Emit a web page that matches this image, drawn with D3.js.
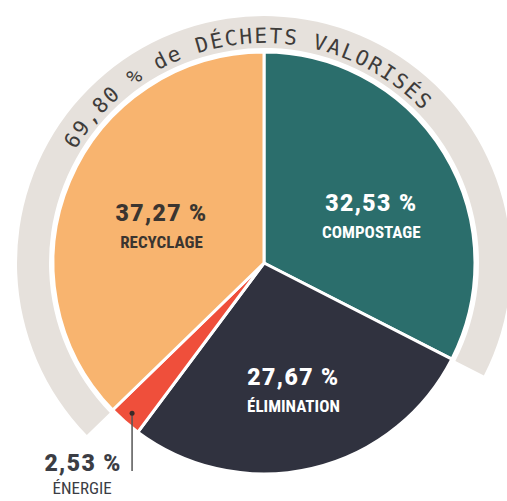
<!DOCTYPE html>
<html>
<head>
<meta charset="utf-8">
<script src="https://cdn.jsdelivr.net/npm/d3@7"></script>
<style>
  html, body { margin: 0; padding: 0; background: #ffffff; }
  svg { display: block; }
</style>
</head>
<body>
<svg id="chart" width="507" height="501"></svg>
<script>
// Waste treatment shares (%), clockwise from 12 o'clock
const categories = ["COMPOSTAGE", "ÉLIMINATION", "ÉNERGIE", "RECYCLAGE"];
const shares = [32.53, 27.67, 2.53, 37.27];
const shareLabels = ["32,53 %", "27,67 %", "2,53 %", "37,27 %"];
const colors = ["#2b6e6c", "#30323f", "#ef4f3b", "#f8b46f"];
// Recovered waste (recycling + composting) highlighted by the outer band
const recovered = ["RECYCLAGE", "COMPOSTAGE"];
const recoveredTitle = "69,80 % de DÉCHETS VALORISÉS";

const svg = d3.select("#chart");
const cx = 264, cy = 263;
const R = 211;
const bandInner = 215, bandOuter = 247;
const deg = Math.PI / 180;

const g = svg.append("g").attr("transform", `translate(${cx},${cy})`);

const data = categories.map((c, i) => ({ cat: c, value: shares[i], label: shareLabels[i], color: colors[i] }));
const pie = d3.pie().sort(null).value(d => d.value).startAngle(0).endAngle(2 * Math.PI);
const arcs = pie(data);
const byCat = Object.fromEntries(arcs.map(a => [a.data.cat, a]));

// Outer grey band spanning the recovered categories (RECYCLAGE start -> COMPOSTAGE end)
const bandStart = byCat[recovered[0]].startAngle - 2 * Math.PI;
const bandEnd = byCat[recovered[1]].endAngle;
g.append("path")
  .attr("d", d3.arc().innerRadius(bandInner).outerRadius(bandOuter)
    .startAngle(bandStart).endAngle(bandEnd)())
  .attr("fill", "#e6e1dc");

// Pie slices
const arcGen = d3.arc().innerRadius(0).outerRadius(R);
g.selectAll("path.slice")
  .data(arcs)
  .join("path")
  .attr("class", "slice")
  .attr("d", arcGen)
  .attr("fill", d => d.data.color)
  .attr("stroke", "#ffffff")
  .attr("stroke-width", 3)
  .attr("stroke-linejoin", "round");

// Curved title along the band
const tr = 220;
const a0 = -59 * deg, a1 = 46 * deg, aPathEnd = 60 * deg;
const p0 = [tr * Math.sin(a0), -tr * Math.cos(a0)];
const p1 = [tr * Math.sin(aPathEnd), -tr * Math.cos(aPathEnd)];
svg.append("defs").append("path")
  .attr("id", "titlePath")
  .attr("d", `M${p0[0]},${p0[1]} A${tr},${tr} 0 0 1 ${p1[0]},${p1[1]}`);
g.append("text")
  .attr("font-family", "'DejaVu Sans Mono', 'Liberation Mono', monospace")
  .attr("font-size", 21)
  .attr("fill", "#3e3c3a")
  .append("textPath")
  .attr("href", "#titlePath")
  .attr("textLength", tr * (a1 - a0))
  .attr("lengthAdjust", "spacing")
  .text(recoveredTitle);

// Inside labels: placed around each slice's centroid
const labelPos = {
  "RECYCLAGE":   { r: 109, nudge: -3 },
  "COMPOSTAGE":  { r: 117, nudge: 8 },
  "ÉLIMINATION": { r: 130, nudge: 0 }
};
const numFont = "'Roboto', 'Liberation Sans', sans-serif";
const catFont = "'Liberation Sans Narrow', 'Roboto Condensed', 'DejaVu Sans Condensed', sans-serif";

Object.entries(labelPos).forEach(([cat, pos]) => {
  const a = byCat[cat];
  const mid = (a.startAngle + a.endAngle) / 2 + pos.nudge * deg;
  const x = pos.r * Math.sin(mid), y = -pos.r * Math.cos(mid);
  const fill = cat === "RECYCLAGE" ? "#3b3530" : "#ffffff";
  const lg = g.append("g").attr("transform", `translate(${x},${y})`);
  lg.append("text")
    .attr("text-anchor", "middle")
    .attr("y", -5)
    .attr("font-family", numFont)
    .attr("font-weight", 900)
    .attr("font-size", 23)
    .attr("letter-spacing", 1.4)
    .attr("fill", fill)
    .text(a.data.label);
  lg.append("text")
    .attr("text-anchor", "middle")
    .attr("y", 22)
    .attr("font-family", catFont)
    .attr("font-weight", 700)
    .attr("font-size", 17)
    .attr("fill", fill)
    .text(cat);
});

// External label for the small ÉNERGIE slice, with leader line
const en = byCat["ÉNERGIE"];
const enMid = (en.startAngle + en.endAngle) / 2;
const dotR = 200;
const dx = dotR * Math.sin(enMid), dy = -dotR * Math.cos(enMid);
const lineBottom = 471 - cy;
g.append("line")
  .attr("x1", dx).attr("y1", dy)
  .attr("x2", dx).attr("y2", lineBottom)
  .attr("stroke", "#555555")
  .attr("stroke-width", 1.5);
g.append("circle")
  .attr("cx", dx).attr("cy", dy).attr("r", 2.5)
  .attr("fill", "#3a2a28");
g.append("text")
  .attr("x", dx - 49).attr("y", lineBottom)
  .attr("text-anchor", "middle")
  .attr("font-family", numFont)
  .attr("font-weight", 900)
  .attr("font-size", 23)
  .attr("letter-spacing", 1.4)
  .attr("fill", "#3b3d44")
  .text(en.data.label);
g.append("text")
  .attr("x", dx - 50).attr("y", lineBottom + 23)
  .attr("text-anchor", "middle")
  .attr("font-family", catFont)
  .attr("font-size", 17)
  .attr("fill", "#3b3d44")
  .text(en.data.cat);
</script>
</body>
</html>
